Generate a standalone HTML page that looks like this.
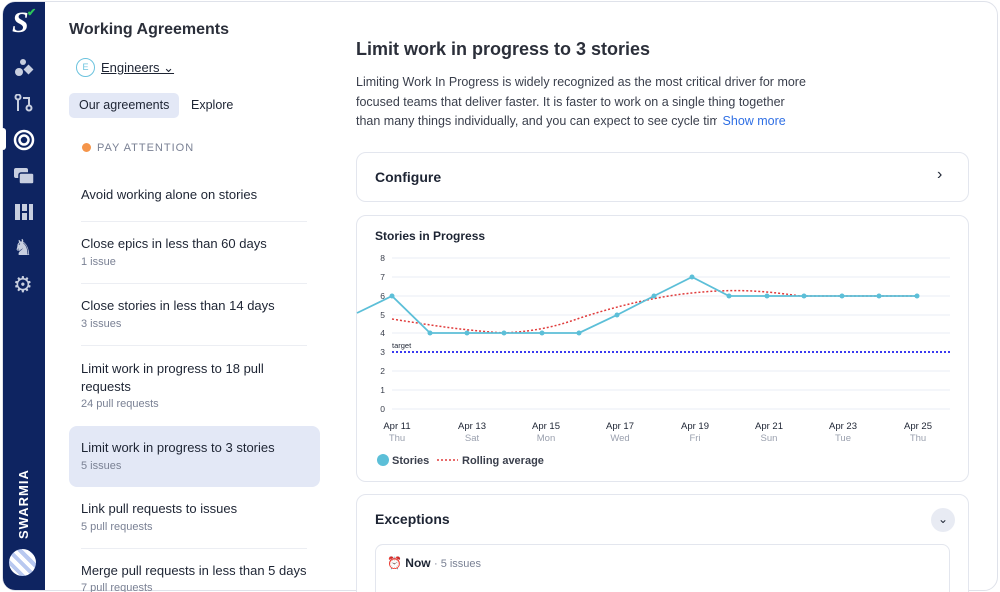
<!DOCTYPE html>
<html><head><meta charset="utf-8"><style>
*{box-sizing:border-box;margin:0;padding:0}
body{width:1000px;height:592px;overflow:hidden;background:#fff;font-family:"Liberation Sans",sans-serif;color:#1d2433;position:relative}
.frame{position:absolute;left:0;top:0;width:1000px;height:592px;overflow:hidden}
.border{position:absolute;left:2px;top:1px;width:996px;height:590px;border:1px solid #dfe2ea;border-radius:14px}
.side{position:absolute;left:3px;top:2px;width:42px;height:588px;background:#0e2461;border-radius:12px 0 0 12px}
.ic{position:absolute;left:11px;width:20px;height:18px;color:#c8cfe0}
.t{position:absolute;white-space:nowrap}
.item{position:absolute;left:81px;font-size:13px;color:#1d2433}
.sub{position:absolute;left:81px;font-size:11px;color:#7a8194}
.sep{position:absolute;left:81px;width:226px;height:1px;background:#eceef3}
.card{position:absolute;left:356px;width:613px;border:1px solid #e3e6ee;border-radius:10px;background:#fff}
</style></head><body>
<div class="frame">
<div class="border"></div>
<div class="side">
 <div class="t" style="left:9px;top:4px;font-size:30px;font-weight:bold;color:#fff;font-family:'Liberation Serif',serif;font-style:italic">S</div>
 <div class="t" style="left:24px;top:4px;font-size:11px;color:#2cc55a;font-weight:bold">✔</div>
 <svg class="ic" style="top:57px" viewBox="0 0 20 18"><circle cx="5" cy="13" r="4" fill="#c8cfe0"/><circle cx="9" cy="3" r="3" fill="#c8cfe0"/><rect x="11" y="7" width="7" height="7" transform="rotate(45 14.5 10.5)" fill="#c8cfe0"/></svg>
 <svg class="ic" style="top:92px" viewBox="0 0 20 18"><circle cx="4" cy="3" r="2.5" fill="none" stroke="#c8cfe0" stroke-width="2"/><line x1="4" y1="6" x2="4" y2="17" stroke="#c8cfe0" stroke-width="2"/><circle cx="15" cy="14" r="2.5" fill="none" stroke="#c8cfe0" stroke-width="2"/><path d="M15 11V4H9" fill="none" stroke="#c8cfe0" stroke-width="2"/></svg>
 <div style="position:absolute;left:-3px;top:126px;width:6px;height:22px;background:#fff;border-radius:3px"></div>
 <svg class="ic" style="top:127px;width:22px;height:22px;left:10px" viewBox="0 0 22 22"><circle cx="11" cy="11" r="9" fill="none" stroke="#fff" stroke-width="2.5"/><circle cx="11" cy="11" r="4.5" fill="none" stroke="#fff" stroke-width="2.5"/></svg>
 <svg class="ic" style="top:165px" viewBox="0 0 20 18"><rect x="0" y="1" width="14" height="10" rx="2" fill="#c8cfe0"/><rect x="5" y="6" width="15" height="11" rx="2" fill="#c8cfe0" stroke="#0e2461" stroke-width="1.5"/></svg>
 <svg class="ic" style="top:201px" viewBox="0 0 20 18"><rect x="1" y="1" width="5" height="16" fill="#c8cfe0"/><rect x="8" y="1" width="5" height="7" fill="#c8cfe0"/><rect x="8" y="10" width="5" height="7" fill="#c8cfe0"/><rect x="15" y="1" width="4" height="16" fill="#c8cfe0"/></svg>
 <div class="t" style="left:10px;top:233px;font-size:22px;color:#c8cfe0">♞</div>
 <div class="t" style="left:10px;top:270px;font-size:22px;color:#c8cfe0">⚙</div>
 <div class="t" style="left:13px;top:537px;transform:rotate(-90deg);transform-origin:0 0;font-size:13px;font-weight:bold;color:#fff;letter-spacing:1px">SWARMIA</div>
 <div style="position:absolute;left:6px;top:547px;width:27px;height:27px;border-radius:50%;background:repeating-linear-gradient(45deg,#b9c9f0 0 4px,#fff 4px 8px)"></div>
</div>
<div class="t" style="left:69px;top:21px;font-size:16px;font-weight:bold;color:#2b2f3a">Working Agreements</div>
<div style="position:absolute;left:76px;top:58px;width:19px;height:19px;border:1.5px solid #6cc3de;border-radius:50%;font-size:9px;color:#6cc3de;text-align:center;line-height:16px">E</div>
<div class="t" style="left:101px;top:60px;font-size:13px;text-decoration:underline">Engineers ⌄</div>
<div style="position:absolute;left:69px;top:93px;width:110px;height:25px;background:#e3e8f6;border-radius:5px"></div>
<div class="t" style="left:79px;top:98px;font-size:12.5px">Our agreements</div>
<div class="t" style="left:191px;top:98px;font-size:12.5px">Explore</div>
<div style="position:absolute;left:82px;top:143px;width:9px;height:9px;border-radius:50%;background:#f5954a"></div>
<div class="t" style="left:97px;top:142px;font-size:11px;color:#7a8194;letter-spacing:1px">PAY ATTENTION</div>
<div class="t item" style="top:187px">Avoid working alone on stories</div>
<div class="sep" style="top:221px"></div>
<div class="t item" style="top:236px">Close epics in less than 60 days</div><div class="t sub" style="top:256px">1 issue</div>
<div class="sep" style="top:283px"></div>
<div class="t item" style="top:298px">Close stories in less than 14 days</div><div class="t sub" style="top:318px">3 issues</div>
<div class="sep" style="top:345px"></div>
<div class="t item" style="top:360px;line-height:18px">Limit work in progress to 18 pull<br>requests</div><div class="t sub" style="top:398px">24 pull requests</div>
<div style="position:absolute;left:69px;top:426px;width:251px;height:61px;background:#e3e8f6;border-radius:8px"></div>
<div class="t item" style="top:440px">Limit work in progress to 3 stories</div><div class="t sub" style="top:460px">5 issues</div>
<div class="t item" style="top:501px">Link pull requests to issues</div><div class="t sub" style="top:521px">5 pull requests</div>
<div class="sep" style="top:548px"></div>
<div class="t item" style="top:563px">Merge pull requests in less than 5 days</div><div class="t sub" style="top:582px">7 pull requests</div>

<div class="t" style="left:356px;top:39px;font-size:18px;font-weight:bold;color:#2b2f3a">Limit work in progress to 3 stories</div>
<div class="t" style="left:356px;top:73px;font-size:12.5px;line-height:19.5px;color:#3a3f4c">Limiting Work In Progress is widely recognized as the most critical driver for more<br>focused teams that deliver faster. It is faster to work on a single thing together<br>than many things individually, and you can expect to see cycle times <span style="color:#2f6fe4;background:#fff;margin-left:-20px;padding-left:6px">Show more</span></div>
<div class="card" style="top:152px;height:50px"><div class="t" style="left:18px;top:16px;font-size:14px;font-weight:bold">Configure</div><div class="t" style="left:580px;top:13px;font-size:16px">›</div></div>
<div class="card" style="top:215px;height:267px"></div>
<div class="t" style="left:375px;top:229px;font-size:12px;font-weight:bold">Stories in Progress</div>
<svg style="position:absolute;left:0;top:0" width="1000" height="592">
<g stroke="#e8ecf4" stroke-width="1">
<line x1="392" x2="950" y1="258" y2="258"/><line x1="392" x2="950" y1="277" y2="277"/><line x1="392" x2="950" y1="296" y2="296"/><line x1="392" x2="950" y1="315" y2="315"/><line x1="392" x2="950" y1="333" y2="333"/><line x1="392" x2="950" y1="371" y2="371"/><line x1="392" x2="950" y1="390" y2="390"/><line x1="392" x2="950" y1="409" y2="409"/></g>
<g font-size="8.5" fill="#3a3f4c" text-anchor="end" font-family="Liberation Sans"><text x="385" y="261">8</text><text x="385" y="280">7</text><text x="385" y="299">6</text><text x="385" y="318">5</text><text x="385" y="336">4</text><text x="385" y="355">3</text><text x="385" y="374">2</text><text x="385" y="393">1</text><text x="385" y="412">0</text></g>
<text x="392" y="348" font-size="7.5" fill="#1d2433">target</text>
<line x1="392" x2="950" y1="352" y2="352" stroke="#3b3bf0" stroke-width="2" stroke-dasharray="2,2"/>
<path d="M392 319 C430 325,460 330,504 333 C540 331,560 325,580 318 C620 305,660 296,692 293 C730 289,760 290,800 296 L917 296" fill="none" stroke="#e03b3b" stroke-width="1.5" stroke-dasharray="2,2"/>
<polyline points="357,313 392,296 430,333 467,333 504,333 542,333 579,333 617,315 654,296 692,277 729,296 767,296 804,296 842,296 879,296 917,296" fill="none" stroke="#5cbfd8" stroke-width="1.8"/>
<g fill="#5cbfd8"><circle cx="392" cy="296" r="2.5"/><circle cx="430" cy="333" r="2.5"/><circle cx="467" cy="333" r="2.5"/><circle cx="504" cy="333" r="2.5"/><circle cx="542" cy="333" r="2.5"/><circle cx="579" cy="333" r="2.5"/><circle cx="617" cy="315" r="2.5"/><circle cx="654" cy="296" r="2.5"/><circle cx="692" cy="277" r="2.5"/><circle cx="729" cy="296" r="2.5"/><circle cx="767" cy="296" r="2.5"/><circle cx="804" cy="296" r="2.5"/><circle cx="842" cy="296" r="2.5"/><circle cx="879" cy="296" r="2.5"/><circle cx="917" cy="296" r="2.5"/></g>
<g font-size="9.5" text-anchor="middle" font-family="Liberation Sans"><g fill="#1d2433"><text x="397" y="429">Apr 11</text><text x="472" y="429">Apr 13</text><text x="546" y="429">Apr 15</text><text x="620" y="429">Apr 17</text><text x="695" y="429">Apr 19</text><text x="769" y="429">Apr 21</text><text x="843" y="429">Apr 23</text><text x="918" y="429">Apr 25</text></g>
<g fill="#9aa0ae"><text x="397" y="441">Thu</text><text x="472" y="441">Sat</text><text x="546" y="441">Mon</text><text x="620" y="441">Wed</text><text x="695" y="441">Fri</text><text x="769" y="441">Sun</text><text x="843" y="441">Tue</text><text x="918" y="441">Thu</text></g></g>
<circle cx="383" cy="460" r="6" fill="#5cbfd8"/>
<text x="392" y="464" font-size="11" font-weight="bold" fill="#3a3f4c" font-family="Liberation Sans">Stories</text>
<line x1="437" x2="458" y1="460" y2="460" stroke="#e03b3b" stroke-width="1.5" stroke-dasharray="2,2"/>
<text x="462" y="464" font-size="11" font-weight="bold" fill="#3a3f4c" font-family="Liberation Sans">Rolling average</text>
</svg>
<div class="card" style="top:494px;height:110px"></div>
<div class="t" style="left:375px;top:511px;font-size:14px;font-weight:bold">Exceptions</div>
<div style="position:absolute;left:931px;top:508px;width:24px;height:24px;border-radius:50%;background:#e8ebf3;text-align:center;font-size:12px;line-height:22px">⌄</div>
<div style="position:absolute;left:375px;top:544px;width:575px;height:60px;border:1px solid #e3e6ee;border-radius:8px"></div>
<div class="t" style="left:387px;top:556px;font-size:12px">⏰ <b style="color:#1d2433">Now</b> <span style="color:#7a8194;font-size:11px">· 5 issues</span></div>
</div>
</body></html>
